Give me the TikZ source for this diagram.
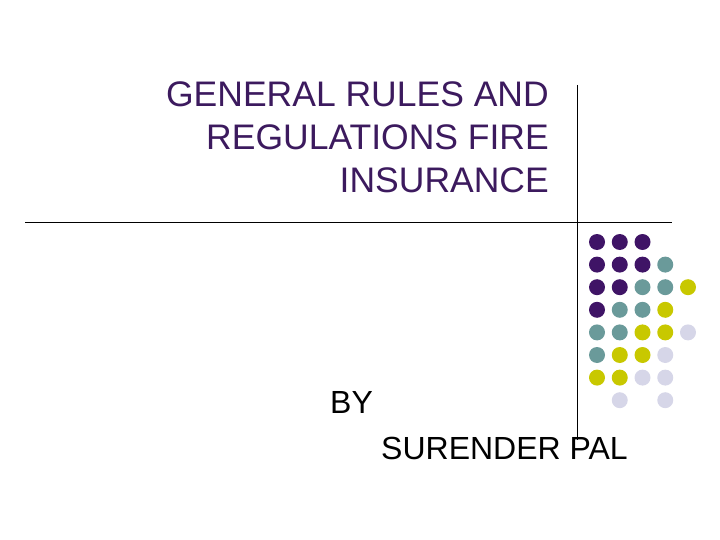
\documentclass[tikz,border=0pt]{standalone}
\usepackage{fontspec}
\setmainfont{Liberation Sans}
\definecolor{tpurple}{HTML}{3C1A5E}
\definecolor{dP}{HTML}{3F1466}
\definecolor{dT}{HTML}{6A9A9A}
\definecolor{dY}{HTML}{C8C800}
\definecolor{dL}{HTML}{D6D6E8}
\begin{document}
\begin{tikzpicture}[x=1pt,y=-1pt,
  ttl/.style={anchor=base east,inner sep=0pt,text=tpurple,font=\fontsize{35.5}{40}\selectfont},
  body/.style={anchor=base west,inner sep=0pt,font=\fontsize{32}{38}\selectfont},
  rule/.style={line width=0.8pt,black}]
\useasboundingbox (0,0) rectangle (720,540);
\node[ttl] (t1) at (549,107) {GENERAL RULES AND};
\node[ttl] (t2) at (549,150) {REGULATIONS FIRE};
\node[ttl] (t3) at (549,193) {INSURANCE};
\node[body] (by) at (330,413) {BY};
\node[body] (sp) at (381,459) {SURENDER PAL};
\coordinate (vt) at (577,85); \coordinate (vb) at (577,440);
\coordinate (hl) at (25,222); \coordinate (hr) at (672,222);
\draw[rule] (vt) -- (vb);
\draw[rule] (hl) -- (hr);
\foreach \r/\row in {0/{P,P,P,N,N},1/{P,P,P,T,N},2/{P,P,T,T,Y},3/{P,T,T,Y,N},4/{T,T,Y,Y,L},5/{T,Y,Y,L,N},6/{Y,Y,L,L,N},7/{N,L,N,L,N}}{
  \foreach \c[count=\i from 0] in \row {
    \if\c N\else
      \fill[d\c] (597+22.75*\i,242+22.6*\r) circle (8);
    \fi
  }
}
\end{tikzpicture}
\end{document}
